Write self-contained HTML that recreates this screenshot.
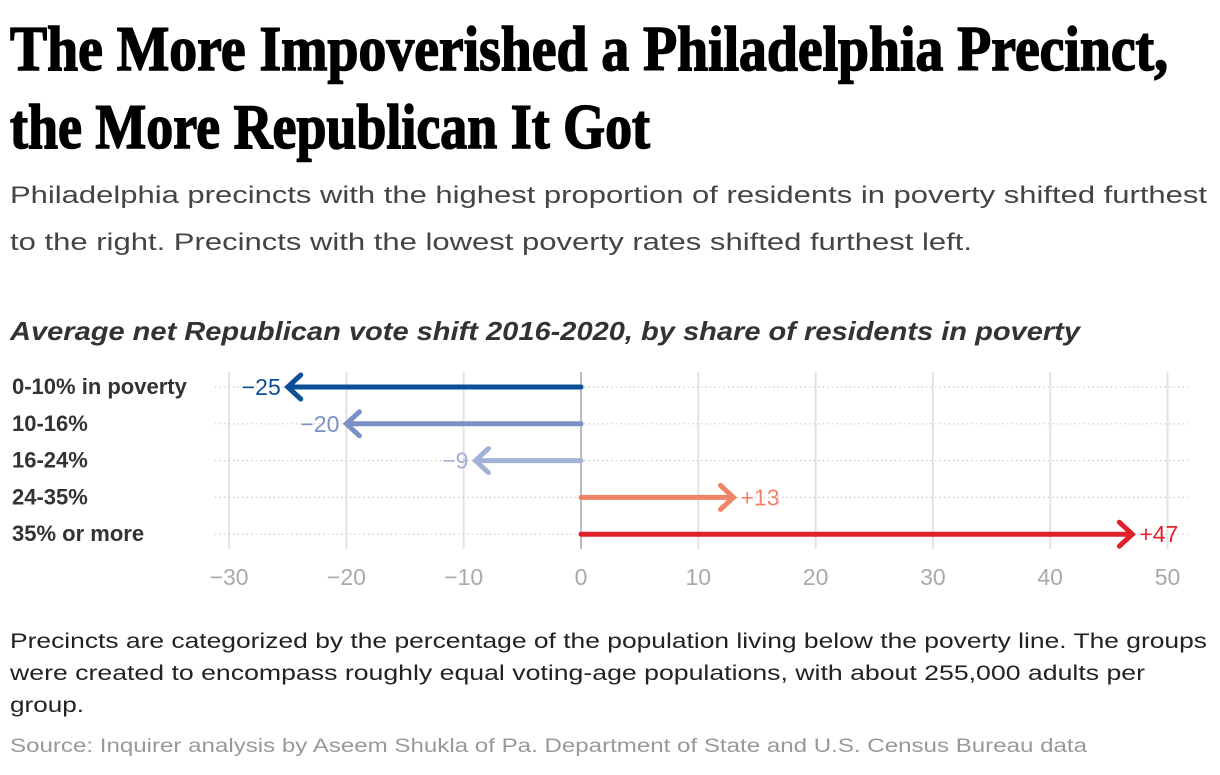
<!DOCTYPE html>
<html><head><meta charset="utf-8"><style>
body{margin:0;background:#fff;width:1220px;height:770px;overflow:hidden}
svg text{font-family:"Liberation Sans",sans-serif}
</style></head><body>
<svg width="1220" height="770">
<text x="10" y="70" font-weight="bold" font-size="64" stroke="#000" stroke-width="1.6" textLength="1158" lengthAdjust="spacingAndGlyphs" style="font-family:'Liberation Serif',serif">The More Impoverished a Philadelphia Precinct,</text>
<text x="10" y="148" font-weight="bold" font-size="64" stroke="#000" stroke-width="1.6" textLength="640" lengthAdjust="spacingAndGlyphs" style="font-family:'Liberation Serif',serif">the More Republican It Got</text>
<text x="10" y="203" font-size="24" fill="#444" textLength="1197" lengthAdjust="spacingAndGlyphs">Philadelphia precincts with the highest proportion of residents in poverty shifted furthest</text>
<text x="10" y="250" font-size="24" fill="#444" textLength="962" lengthAdjust="spacingAndGlyphs">to the right. Precincts with the lowest poverty rates shifted furthest left.</text>
<text x="10" y="340" font-size="26" font-weight="bold" font-style="italic" fill="#333" textLength="1070" lengthAdjust="spacingAndGlyphs">Average net Republican vote shift 2016-2020, by share of residents in poverty</text>
<g id="plot"></g>
<text x="10" y="648" font-size="21" fill="#222" textLength="1197" lengthAdjust="spacingAndGlyphs">Precincts are categorized by the percentage of the population living below the poverty line. The groups</text>
<text x="10" y="680" font-size="21" fill="#222" textLength="1135" lengthAdjust="spacingAndGlyphs">were created to encompass roughly equal voting-age populations, with about 255,000 adults per</text>
<text x="10" y="712" font-size="21" fill="#222" textLength="74" lengthAdjust="spacingAndGlyphs">group.</text>
<text x="10" y="752" font-size="19" fill="#999" textLength="1077" lengthAdjust="spacingAndGlyphs">Source: Inquirer analysis by Aseem Shukla of Pa. Department of State and U.S. Census Bureau data</text>
</svg>
<script>
const categories=["0-10% in poverty","10-16%","16-24%","24-35%","35% or more"];
const shifts=[-25,-20,-9,13,47];
const valueLabels=["\u221225","\u221220","\u22129","+13","+47"];
const colors=["#0b4f94","#7b90c4","#a3b1d6","#ef8466","#e0202a"];
const ticks=[-30,-20,-10,0,10,20,30,40,50];
const tickLabels=["\u221230","\u221220","\u221210","0","10","20","30","40","50"];
const NS="http://www.w3.org/2000/svg";
const g=document.getElementById("plot");
const x=v=>581+(v)*11.73;
const y=i=>387+i*36.8;
function mk(t,a){const e=document.createElementNS(NS,t);for(const k in a)e.setAttribute(k,a[k]);g.appendChild(e);return e;}
ticks.forEach((t,i)=>{
 const l=mk("line",{x1:x(t),x2:x(t),y1:372,y2:549,stroke:t===0?"#bbb":"#e3e3e3","stroke-width":2});
 
 
 const tx=mk("text",{x:x(t),y:585,"text-anchor":"middle","font-size":23,fill:"#aaa"});
 tx.textContent=tickLabels[i];
 
 
});
categories.forEach((c,i)=>{
 const d=mk("line",{x1:215,x2:1188,y1:y(i),y2:y(i),stroke:"#ccc","stroke-width":1.2,"stroke-dasharray":"1.5 3"});
 
 
 const lb=mk("text",{x:12,y:y(i)+7,"font-size":22,"font-weight":"bold",fill:"#333"});
 lb.textContent=c;
 
 
 const v=shifts[i],dir=v<0?-1:1,xe=x(v);
 const ln=mk("line",{x1:x(0),x2:xe-dir*2,y1:y(i),y2:y(i),stroke:colors[i],"stroke-width":5,"stroke-linecap":"round"});
 
 
 const hd=mk("polyline",{fill:"none"});
 hd.setAttribute("points",`${xe+dir*-13} ${y(i)-12} ${xe} ${y(i)} ${xe+dir*-13} ${y(i)+12}`);
 hd.setAttribute("stroke",colors[i]);hd.setAttribute("stroke-width",5);hd.setAttribute("stroke-linecap","round");
 
 
 const vl=mk("text",{x:xe+dir*7,y:y(i)+8,"font-size":23,fill:colors[i],"text-anchor":dir<0?"end":"start"});
 vl.textContent=valueLabels[i];
 
 
});
</script>
</body></html>
